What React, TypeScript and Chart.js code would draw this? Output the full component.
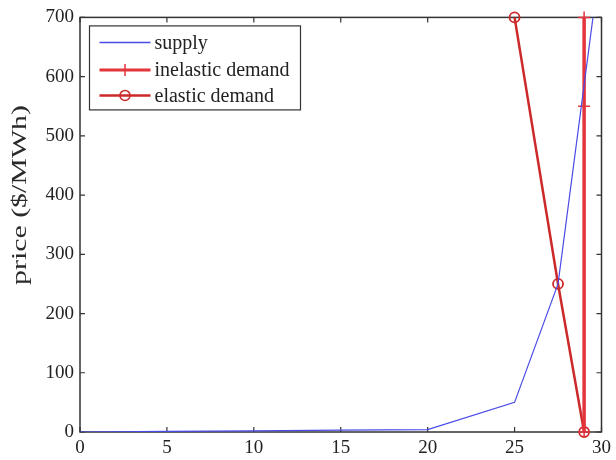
import React, { useEffect, useRef } from "react";
import { Chart, registerables } from "chart.js";

Chart.register(...registerables);

const supplyX = [0, 5, 10, 15, 20, 25, 27.5, 30];
const supplyY = [0, 1, 2, 3, 4, 50, 250, 810];
const inelasticX = [29, 29, 29];
const inelasticY = [0, 550, 700];
const elasticX = [25, 27.5, 29];
const elasticY = [700, 250, 0];
const xTickValues = [0, 5, 10, 15, 20, 25, 30];
const yTickValues = [0, 100, 200, 300, 400, 500, 600, 700];
const seriesNames = ["supply", "inelastic demand", "elastic demand"];
const yTitle = "price ($/MWh)";

const FONT = "'Liberation Serif', 'DejaVu Serif', serif";
const SUPPLY_COLOR = "#4a4ae6";
const INELASTIC_COLOR = "#e4343c";
const ELASTIC_COLOR = "#cc2a2a";
const AXIS_COLOR = "#333333";

const toPts = (xs: number[], ys: number[]) => xs.map((x, i) => ({ x, y: ys[i] }));

const framePlugin = {
  id: "frame",
  beforeDatasetsDraw(chart: any) {
    const { ctx, chartArea: a, scales } = chart;
    ctx.save();
    ctx.strokeStyle = AXIS_COLOR;
    ctx.lineWidth = 1.5;
    ctx.strokeRect(a.left, a.top, a.right - a.left, a.bottom - a.top);
    ctx.lineWidth = 1.2;
    const tl = 5;
    ctx.beginPath();
    xTickValues.forEach((v) => {
      const px = scales.x.getPixelForValue(v);
      ctx.moveTo(px, a.bottom);
      ctx.lineTo(px, a.bottom - tl);
      ctx.moveTo(px, a.top);
      ctx.lineTo(px, a.top + tl);
    });
    yTickValues.forEach((v) => {
      const py = scales.y.getPixelForValue(v);
      ctx.moveTo(a.left, py);
      ctx.lineTo(a.left + tl, py);
      ctx.moveTo(a.right, py);
      ctx.lineTo(a.right - tl, py);
    });
    ctx.stroke();
    ctx.restore();
  },
  afterDraw(chart: any) {
    const { ctx, chartArea: a } = chart;
    ctx.save();
    // y-axis title
    ctx.font = `21px ${FONT}`;
    ctx.fillStyle = "#2a2a2a";
    const w = ctx.measureText(yTitle).width;
    const sx = 180 / w;
    ctx.translate(26, 195);
    ctx.rotate(-Math.PI / 2);
    ctx.scale(sx, 1);
    ctx.textAlign = "center";
    ctx.textBaseline = "alphabetic";
    ctx.fillText(yTitle, 0, 0);
    ctx.restore();

    // legend
    ctx.save();
    const lx = a.left + 9.5;
    const ly = a.top + 8.5;
    const lw = 211;
    const lh = 84;
    ctx.fillStyle = "#ffffff";
    ctx.fillRect(lx, ly, lw, lh);
    ctx.strokeStyle = AXIS_COLOR;
    ctx.lineWidth = 1.2;
    ctx.strokeRect(lx, ly, lw, lh);
    const rows = [ly + 16.5, ly + 44, ly + 69.5];
    const x0 = lx + 10;
    const x1 = lx + 61;
    const xm = (x0 + x1) / 2;
    const styles = [
      { c: SUPPLY_COLOR, w: 1.5, m: "none" },
      { c: INELASTIC_COLOR, w: 3, m: "cross" },
      { c: ELASTIC_COLOR, w: 2.5, m: "circle" },
    ];
    styles.forEach((s, i) => {
      const y = rows[i];
      ctx.strokeStyle = s.c;
      ctx.lineWidth = s.w;
      ctx.beginPath();
      ctx.moveTo(x0, y);
      ctx.lineTo(x1, y);
      ctx.stroke();
      ctx.lineWidth = 1.5;
      if (s.m === "cross") {
        ctx.beginPath();
        ctx.moveTo(xm - 6, y);
        ctx.lineTo(xm + 6, y);
        ctx.moveTo(xm, y - 6);
        ctx.lineTo(xm, y + 6);
        ctx.stroke();
      } else if (s.m === "circle") {
        ctx.beginPath();
        ctx.arc(xm, y, 5, 0, Math.PI * 2);
        ctx.stroke();
      }
      ctx.fillStyle = "#222";
      ctx.font = `20px ${FONT}`;
      ctx.textAlign = "left";
      ctx.textBaseline = "middle";
      ctx.fillText(seriesNames[i], lx + 65, y + 1);
    });
    ctx.restore();
  },
};

export default function App() {
  const ref = useRef<HTMLCanvasElement | null>(null);
  useEffect(() => {
    if (!ref.current) return;
    const tickFont = { family: FONT, size: 19 };
    const chart = new Chart(ref.current, {
      type: "scatter",
      data: {
        datasets: [
          {
            label: seriesNames[0],
            data: toPts(supplyX, supplyY),
            showLine: true,
            borderColor: SUPPLY_COLOR,
            borderWidth: 1.2,
            pointRadius: 0,
          },
          {
            label: seriesNames[1],
            data: toPts(inelasticX, inelasticY),
            showLine: true,
            borderColor: INELASTIC_COLOR,
            borderWidth: 3.5,
            pointStyle: "cross",
            pointRadius: 6,
            pointBorderWidth: 1.5,
            pointBorderColor: INELASTIC_COLOR,
            clip: false,
          },
          {
            label: seriesNames[2],
            data: toPts(elasticX, elasticY),
            showLine: true,
            borderColor: ELASTIC_COLOR,
            borderWidth: 2.5,
            pointStyle: "circle",
            pointRadius: 5,
            pointBorderWidth: 1.8,
            pointBorderColor: ELASTIC_COLOR,
            pointBackgroundColor: "rgba(0,0,0,0)",
            clip: false,
          },
        ],
      },
      options: {
        responsive: false,
        animation: false,
        layout: { padding: { top: 15, right: 10, left: 0, bottom: 0 } },
        plugins: { legend: { display: false }, tooltip: { enabled: false } },
        scales: {
          x: {
            type: "linear",
            min: 0,
            max: 30,
            afterBuildTicks: (s: any) => {
              s.ticks = xTickValues.map((v) => ({ value: v }));
            },
            afterFit: (s: any) => {
              s.height = 28;
            },
            ticks: { font: tickFont, color: "#222", padding: 5, maxRotation: 0, autoSkip: false },
            grid: { display: false, drawTicks: false },
            border: { display: false },
          },
          y: {
            type: "linear",
            min: 0,
            max: 700,
            afterBuildTicks: (s: any) => {
              s.ticks = yTickValues.map((v) => ({ value: v }));
            },
            afterFit: (s: any) => {
              s.width = 80;
            },
            ticks: { font: tickFont, color: "#222", padding: 6, autoSkip: false },
            grid: { display: false, drawTicks: false },
            border: { display: false },
          },
        },
      },
      plugins: [framePlugin],
    } as any);
    return () => chart.destroy();
  }, []);
  return (
    <div style={{ position: "fixed", left: 0, top: 0, width: 616, height: 460, background: "#fff" }}>
      <canvas ref={ref} width={616} height={460} />
    </div>
  );
}
